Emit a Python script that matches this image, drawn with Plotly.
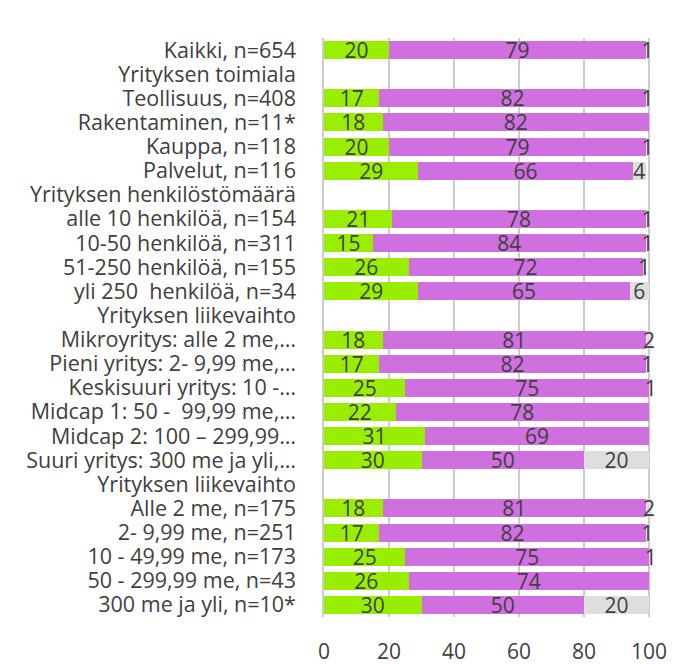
import plotly.graph_objects as go

labels = [
    "Kaikki, n=654",
    "Yrityksen toimiala",
    "Teollisuus, n=408",
    "Rakentaminen, n=11*",
    "Kauppa, n=118",
    "Palvelut, n=116",
    "Yrityksen henkilöstömäärä",
    "alle 10 henkilöä, n=154",
    "10-50 henkilöä, n=311",
    "51-250 henkilöä, n=155",
    "yli 250  henkilöä, n=34",
    "Yrityksen liikevaihto",
    "Mikroyritys: alle 2 me,…",
    "Pieni yritys: 2- 9,99 me,…",
    "Keskisuuri yritys: 10 -…",
    "Midcap 1: 50 -  99,99 me,…",
    "Midcap 2: 100 – 299,99…",
    "Suuri yritys: 300 me ja yli,…",
    "Yrityksen liikevaihto",
    "Alle 2 me, n=175",
    "2- 9,99 me, n=251",
    "10 - 49,99 me, n=173",
    "50 - 299,99 me, n=43",
    "300 me ja yli, n=10*",
]
green = [20, None, 17, 18, 20, 29, None, 21, 15, 26, 29, None, 18, 17, 25, 22, 31, 30, None, 18, 17, 25, 26, 30]
violet = [79, None, 82, 82, 79, 66, None, 78, 84, 72, 65, None, 81, 82, 75, 78, 69, 50, None, 81, 82, 75, 74, 50]
grey = [1, None, 1, None, 1, 4, None, 1, 1, 1, 6, None, 2, 1, 1, None, None, 20, None, 2, 1, 1, None, 20]
x_ticks = [0, 20, 40, 60, 80, 100]

ypos = list(range(len(labels)))

def txt(vals):
    return ["" if v is None else str(v) for v in vals]

fig = go.Figure()
for vals, col in [(green, "#99EE00"), (violet, "#CF6FE0"), (grey, "#DEDEDE")]:
    fig.add_trace(go.Bar(
        y=ypos, x=vals, orientation="h", marker=dict(color=col, line=dict(width=0)),
        text=txt(vals), textposition="inside", insidetextanchor="middle", textangle=0,
        textfont=dict(family="Open Sans", size=21, color="#404040"),
        cliponaxis=False, hoverinfo="skip",
    ))

# page body has an 8px default margin, so the figure is offset by 8px
fig.update_layout(
    barmode="stack", bargap=0.25, showlegend=False,
    width=667, height=656,
    margin=dict(l=316, r=21, t=30, b=47),
    plot_bgcolor="white", paper_bgcolor="white",
    font=dict(family="Open Sans", size=21, color="#404040"),
    uniformtext=dict(minsize=21, mode="show"),
)
fig.update_xaxes(range=[0, 101.5], tickvals=x_ticks, showgrid=True, gridcolor="#CCCCCC", gridwidth=1.5,
                 zeroline=False, ticklabelstandoff=20, tickfont=dict(size=21), automargin=False)
fig.update_yaxes(tickvals=ypos, ticktext=labels,
                 showline=True, linecolor="#CCCCCC", linewidth=1.5, showgrid=False, zeroline=False,
                 ticklabelstandoff=22, tickfont=dict(size=21.5), automargin=False)
fig.update_yaxes(range=[len(labels) - 0.5, -0.5], autorange=False)
fig.write_html("out.html")
